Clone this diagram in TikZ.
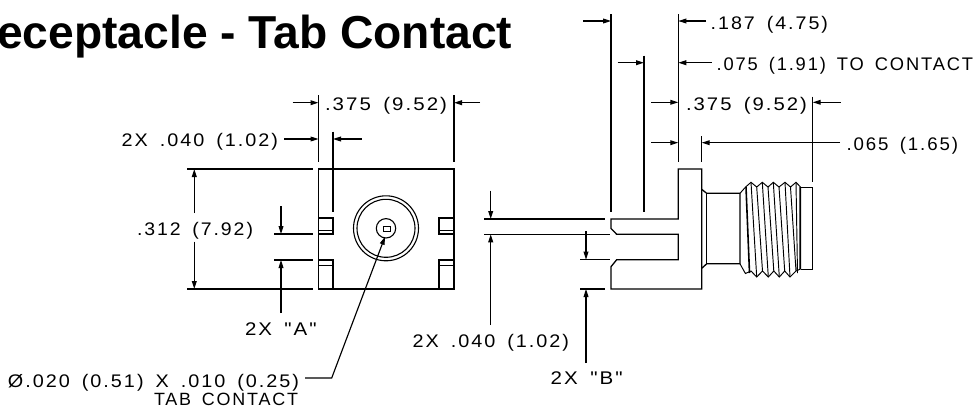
\documentclass[tikz,border=0pt]{standalone}
\usepackage{fontspec}
\usepackage{graphicx}
\usetikzlibrary{arrows.meta}
\setmainfont{Liberation Sans}
\newfontfamily\cadfont[LetterSpace=10,WordSpace=1.6]{Liberation Sans}
\tikzset{
  obj/.style={line width=1.3pt,black,line cap=butt,line join=miter},
  dimline/.style={line width=1.15pt,black},
  tipin/.style={dimline,-{Triangle[length=8pt,width=4.8pt]}},
  cad/.style={anchor=base west,inner sep=0pt,outer sep=0pt,black},
  thr/.style={line width=.95pt,black}
}
\newcommand{\cadlabel}[6]{% name, x1, x2, baseline, box height, text
  \pgfmathsetlengthmacro{\cadw}{#3-#2}%
  \node[cad] (#1) at (#2,#4) {\resizebox{\cadw}{#5pt}{\cadfont\fontsize{17}{17}\selectfont #6}};}
\begin{document}
\begin{tikzpicture}[x=1pt,y=-1pt]
\useasboundingbox (0,0) rectangle (977,407);
\begin{scope}
\clip (0,0) rectangle (977,407);
\node[anchor=base east,inner sep=0pt,font=\fontsize{46.2}{50}\selectfont\bfseries] (title) at (512.5,48.3) {eceptacle - Tab Contact};
\end{scope}

% --- front view
\draw[obj] (318.5,169) rectangle (454,289);
\draw[obj] (318.5,218) -- (333,218) -- (333,234) -- (318.5,234);
\draw[line width=.9pt] (318.5,230) -- (333,230);
\draw[obj] (454,218) -- (439,218) -- (439,234) -- (454,234);
\draw[line width=.9pt] (454,230) -- (439,230);
\draw[obj] (318.5,260) -- (333,260) -- (333,289);
\draw[line width=.9pt] (318.5,265) -- (333,265);
\draw[obj] (454,260) -- (439,260) -- (439,289);
\draw[line width=.9pt] (454,265) -- (439,265);
\coordinate (ctr) at (386,228.3);
\draw[line width=1.1pt] (ctr) circle (32.5) (ctr) circle (29) (ctr) circle (9.7);
\draw[line width=1pt] (383,226.6) rectangle (390,231);

% front view dimensions
\draw[dimline] (318.5,95) -- (318.5,161.7) (454,95) -- (454,161.7);
\draw[tipin] (292.7,102.7) -- (318.5,102.7);
\draw[tipin] (480,102.7) -- (454,102.7);
\draw[dimline] (333,131.7) -- (333,212);
\draw[tipin] (284,139) -- (318.5,139);
\draw[tipin] (361.7,139) -- (333,139);
\draw[dimline] (187,169) -- (312.7,169) (187,289) -- (312.7,289);
\draw[tipin] (194.3,213) -- (194.3,169);
\draw[tipin] (194.3,241.7) -- (194.3,289);
\draw[dimline] (274,234) -- (312.7,234) (274,260) -- (312.7,260);
\draw[tipin] (281,206) -- (281,234);
\draw[tipin] (281,313) -- (281,260);

% --- side view body
\draw[obj] (611,219) -- (678.3,219) -- (678.3,169) -- (701.7,169) -- (701.7,289) -- (611,289) -- (611,266.7) -- (616.7,259.7) -- (678.3,259.7) -- (678.3,234.3) -- (616.7,234.3) -- (611,228.5) -- cycle;
\draw[dimline] (484,219) -- (605,219) (484,234.3) -- (610,234.3);
\draw[dimline] (580,259.7) -- (610,259.7) (580,289) -- (605,289);

% side view dimensions
\draw[dimline] (611,14) -- (611,212) (644,55.7) -- (644,212);
\draw[dimline] (678.3,14) -- (678.3,162) (701.7,136) -- (701.7,162);
\draw[dimline] (812.7,96.7) -- (812.7,181.7);
\draw[tipin] (583,21) -- (611,21);
\draw[tipin] (706,21) -- (678.3,21);
\draw[tipin] (617.7,62.7) -- (644,62.7);
\draw[tipin] (711.7,62.7) -- (678.3,62.7);
\draw[tipin] (651,102.3) -- (678.3,102.3);
\draw[tipin] (840.7,102.3) -- (812.7,102.3);
\draw[tipin] (651,142.7) -- (678.3,142.7);
\draw[tipin] (840,142.7) -- (701.7,142.7);
\draw[tipin] (490.7,190.7) -- (490.7,219);
\draw[tipin] (490.7,325) -- (490.7,234.3);
\draw[tipin] (586,231) -- (586,259.7);
\draw[tipin] (586,363) -- (586,289);

% --- connector
\draw[obj] (701.7,189.3) -- (706.7,193.3) -- (740,193.3) -- (740,263.8) -- (706.7,263.8) -- (701.7,268.3);
\draw[obj] (706.7,193.3) -- (706.7,263.8);
\draw[thr] (740,193.3) -- (745.6,187) -- (751,182.3) -- (756.7,187) -- (762.3,182.3) -- (768,187) -- (773.3,182.3) -- (779,187) -- (785,182.3) -- (790.5,187) -- (796,182.3) -- (800.5,187);
\draw[thr] (740,263.8) -- (745.4,273.5) -- (751,271) -- (756.7,277) -- (762.5,271) -- (768.3,277) -- (773.8,271) -- (779.3,277) -- (784.7,271) -- (790,277) -- (796,271) -- (800.5,269);
\draw[thr] (751,182.3) -- (756.7,277) (762.3,182.3) -- (768.3,277) (773.3,182.3) -- (779.3,277) (785,182.3) -- (790,277);
\draw[thr] (756.7,187) -- (762.5,271) (768,187) -- (773.8,271) (779,187) -- (784.7,271) (790.5,187) -- (796,271) (796,182.3) -- (797.5,273);
\draw[line width=1.6pt] (746,187) -- (749.5,273) (800.2,187) -- (800.2,269);
\draw[obj] (800.5,187.5) -- (812.7,187.5) -- (812.7,269.3) -- (800.5,269.3);

% --- labels
\cadlabel{a}{325}{447}{110.7}{13.2}{.375 (9.52)}
\cadlabel{b}{121.7}{278}{146}{13.2}{2X .040 (1.02)}
\cadlabel{c}{137}{253}{235}{13.2}{.312 (7.92)}
\cadlabel{d}{245}{316.7}{335}{12.8}{2X "A"}
\cadlabel{e}{8}{299}{387}{13.2}{Ø.020 (0.51) X .010 (0.25)}
\cadlabel{f}{154}{298}{405}{12.4}{TAB CONTACT}
\cadlabel{g}{412.7}{569}{347}{13.2}{2X .040 (1.02)}
\cadlabel{h}{550.7}{622.7}{384}{12.8}{2X "B"}
\cadlabel{i}{710.7}{828}{29.3}{13.2}{.187 (4.75)}
\cadlabel{j}{716.7}{973}{70.7}{13.2}{.075 (1.91) TO CONTACT}
\cadlabel{k}{686}{807}{110}{13.2}{.375 (9.52)}
\cadlabel{l}{846.7}{958}{150}{13.2}{.065 (1.65)}

% leader
\coordinate (bend) at (331.7,378);
\draw[tipin] (305,378) -- (bend) -- (385,236.7);
\end{tikzpicture}
\end{document}
